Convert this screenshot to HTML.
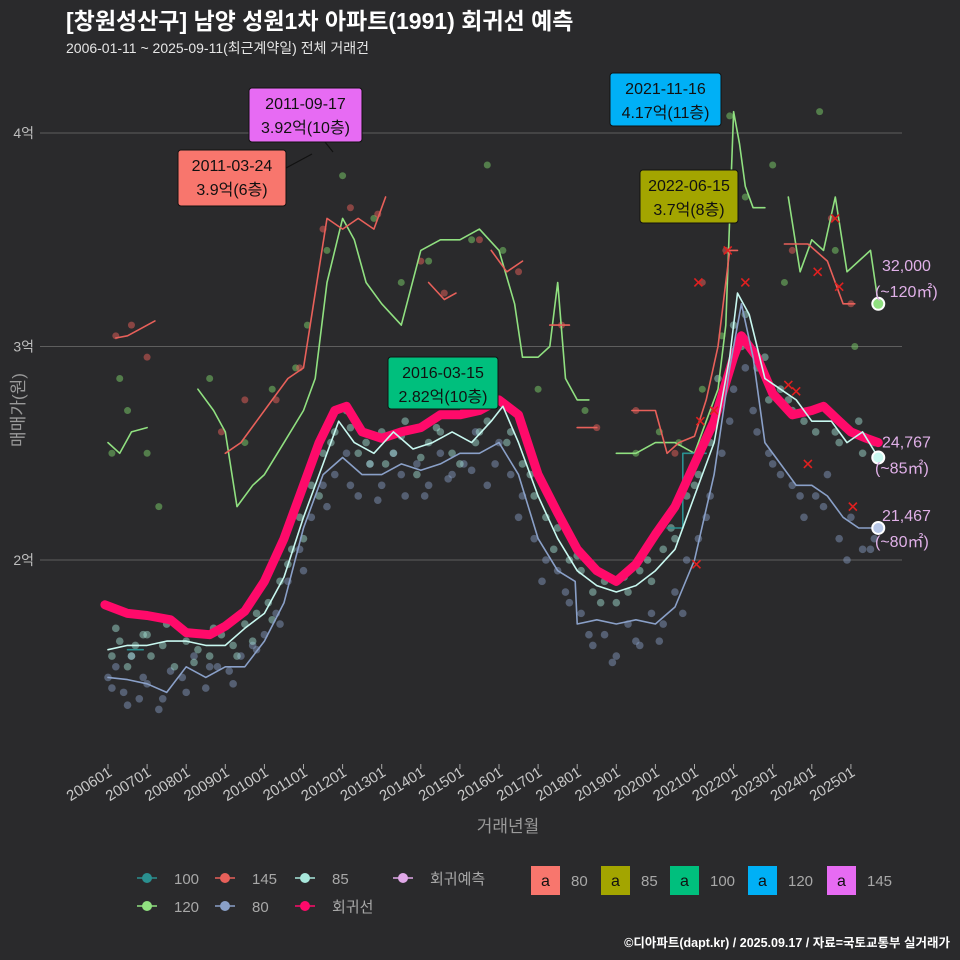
<!DOCTYPE html>
<html><head><meta charset="utf-8">
<style>
body{margin:0;background:#2a2a2c;}
svg{display:block;font-family:"Liberation Sans","Noto Sans CJK KR",sans-serif;}
</style></head>
<body>
<svg id="chart" width="960" height="960" viewBox="0 0 960 960">
<rect width="960" height="960" fill="#2a2a2c"/>
<text x="66" y="29" fill="#ffffff" font-size="23" font-weight="bold">[창원성산구] 남양 성원1차 아파트(1991) 회귀선 예측</text>
<text x="66" y="53" fill="#e6e6e6" font-size="14">2006-01-11 ~ 2025-09-11(최근계약일) 전체 거래건</text>
<g id="grid"></g>
<g id="marks"></g>
<g id="axes"></g>
<text x="508" y="832" fill="#9a9a9a" font-size="17" text-anchor="middle">거래년월</text>
<text transform="translate(24,410) rotate(-90)" fill="#9a9a9a" font-size="17" text-anchor="middle">매매가(원)</text>
<g id="legend"></g>
<text x="950" y="947" fill="#ffffff" font-size="12.5" font-weight="bold" text-anchor="end">©디아파트(dapt.kr) / 2025.09.17 / 자료=국토교통부 실거래가</text>
</svg>
<script>
const yTicks=[2,3,4];
const yTickLabels=["2억","3억","4억"];
const xTickYears=[2006,2007,2008,2009,2010,2011,2012,2013,2014,2015,2016,2017,2018,2019,2020,2021,2022,2023,2024,2025];
const xTickLabels=["200601","200701","200801","200901","201001","201101","201201","201301","201401","201501","201601","201701","201801","201901","202001","202101","202201","202301","202401","202501"];

const regYears=[2005.92,2006.5,2007.0,2007.6,2008.0,2008.6,2009.0,2009.5,2010.0,2010.5,2011.0,2011.4,2011.8,2012.1,2012.5,2013.0,2013.5,2014.0,2014.5,2015.0,2015.5,2016.0,2016.5,2017.0,2017.5,2018.0,2018.5,2019.0,2019.5,2020.0,2020.5,2021.0,2021.5,2022.0,2022.2,2022.6,2023.0,2023.5,2024.0,2024.3,2024.7,2025.0,2025.4,2025.7];
const regValues=[1.79,1.75,1.74,1.72,1.66,1.65,1.69,1.76,1.9,2.1,2.35,2.55,2.7,2.72,2.6,2.57,2.6,2.62,2.68,2.68,2.7,2.75,2.68,2.4,2.22,2.05,1.95,1.9,1.98,2.12,2.25,2.45,2.65,2.95,3.05,2.95,2.78,2.68,2.7,2.72,2.65,2.6,2.57,2.55];

const l85Years=[2006.0,2006.5,2007.0,2007.5,2008.0,2008.5,2009.0,2009.5,2010.0,2010.5,2011.0,2011.5,2011.9,2012.3,2012.8,2013.3,2013.8,2014.3,2014.8,2015.3,2015.8,2016.1,2016.5,2017.0,2017.5,2018.0,2018.5,2019.0,2019.5,2020.0,2020.5,2021.0,2021.5,2021.9,2022.1,2022.4,2022.8,2023.2,2023.6,2024.0,2024.5,2024.9,2025.3,2025.7];
const l85Values=[1.58,1.6,1.6,1.62,1.62,1.6,1.6,1.68,1.75,1.92,2.2,2.45,2.65,2.55,2.5,2.6,2.52,2.55,2.6,2.55,2.65,2.72,2.55,2.3,2.1,1.95,1.88,1.85,1.88,1.95,2.05,2.3,2.55,2.95,3.25,3.15,2.85,2.8,2.75,2.65,2.65,2.55,2.6,2.48];
const l80Years=[2006.0,2006.5,2007.0,2007.5,2008.0,2008.5,2009.0,2009.5,2010.0,2010.5,2011.0,2011.5,2012.0,2012.5,2013.0,2013.5,2014.0,2014.5,2015.0,2015.5,2016.0,2016.5,2017.0,2017.5,2017.95,2018.0,2018.5,2019.0,2019.5,2020.0,2020.5,2021.0,2021.5,2021.9,2022.2,2022.5,2022.8,2023.2,2023.6,2024.0,2024.4,2024.8,2025.2,2025.7];
const l80Values=[1.45,1.44,1.42,1.38,1.5,1.45,1.5,1.5,1.62,1.8,2.15,2.4,2.48,2.4,2.4,2.45,2.42,2.45,2.5,2.5,2.55,2.4,2.1,1.95,1.9,1.7,1.72,1.7,1.72,1.7,1.78,2.0,2.4,2.9,3.2,2.95,2.55,2.45,2.35,2.35,2.3,2.2,2.15,2.15];
const l120Years=[2006.0,2006.3,2006.6,2007.0,null,2008.3,2008.7,2009.0,2009.3,2009.7,2010.0,2010.5,2011.0,2011.3,2011.6,2012.0,2012.3,2012.6,2013.0,2013.5,2014.0,2014.5,2015.0,2015.5,2016.0,2016.4,2016.6,2017.0,2017.3,2017.5,2017.7,2018.0,2018.3,null,2019.0,2019.5,2020.0,2020.5,2021.0,2021.3,2021.6,2021.8,2022.0,2022.15,2022.3,2022.5,2022.8,null,2023.4,2023.7,2024.0,2024.3,2024.6,2024.9,2025.2,2025.5,2025.7];
const l120Values=[2.55,2.5,2.6,2.62,null,2.8,2.7,2.6,2.25,2.35,2.4,2.55,2.7,2.85,3.3,3.6,3.5,3.3,3.2,3.1,3.45,3.5,3.5,3.55,3.45,3.2,2.95,2.95,3.0,3.3,2.85,2.75,2.75,null,2.5,2.5,2.55,2.55,2.5,2.65,2.8,3.1,4.1,3.95,3.75,3.65,3.65,null,3.7,3.35,3.5,3.45,3.7,3.35,3.4,3.45,3.2];
const l145Years=[2006.2,2006.5,2006.8,2007.2,null,2009.0,2009.4,2009.8,2010.2,2010.6,2011.0,2011.3,2011.6,2012.0,2012.4,2012.8,2013.1,null,2014.2,2014.6,2014.9,null,2015.8,2016.2,2016.6,null,2017.3,2017.8,null,2018.0,2018.5,null,2019.4,2020.0,2020.3,2020.6,2021.0,2021.3,2021.6,2021.9,2022.1,null,2023.3,2023.9,2024.4,2024.8,2025.1];
const l145Values=[3.04,3.05,3.08,3.12,null,2.5,2.55,2.65,2.75,2.85,2.9,3.25,3.6,3.55,3.6,3.55,3.7,null,3.3,3.22,3.25,null,3.45,3.35,3.4,null,3.1,3.1,null,2.62,2.62,null,2.7,2.7,2.5,2.55,2.58,2.75,3.0,3.45,3.45,null,3.48,3.48,3.4,3.2,3.2];
const l100Years=[2006.5,2006.9,null,2020.3,2020.7,2020.7,2021.3];
const l100Values=[1.58,1.58,null,2.15,2.15,2.5,2.5];

const p85Years=[2006.1,2006.3,2006.5,2006.7,2006.9,2007.1,2007.4,2007.7,2008.0,2008.3,2008.6,2008.9,2009.2,2009.5,2009.8,2010.1,2010.4,2010.7,2010.9,2011.2,2011.5,2011.8,2012.1,2012.4,2012.7,2013.0,2013.3,2013.6,2013.9,2014.2,2014.5,2014.8,2015.1,2015.4,2015.7,2016.0,2016.3,2016.6,2016.9,2017.2,2017.5,2017.8,2018.1,2018.4,2018.7,2019.0,2019.3,2019.6,2019.9,2020.2,2020.5,2020.8,2021.1,2021.4,2021.7,2022.0,2022.3,2022.6,2022.9,2023.2,2023.5,2023.8,2024.1,2024.4,2024.7,2025.0,2025.3,2025.6,
 2006.2,2006.6,2007.0,2007.5,2008.2,2008.7,2009.3,2009.7,2010.2,2010.6,2011.0,2011.4,2011.7,2012.2,2012.6,2013.1,2013.5,2014.0,2014.4,2015.0,2015.5,2016.2,2016.8,2017.4,2018.0,2018.6,2019.2,2019.8,2020.4,2021.0,2021.6,2022.2,2022.8,2023.4,2024.0,2024.6,2025.2];
const p85Values=[1.55,1.62,1.5,1.6,1.65,1.55,1.6,1.5,1.62,1.58,1.55,1.65,1.6,1.7,1.75,1.8,1.9,2.05,2.2,2.35,2.5,2.6,2.7,2.5,2.45,2.6,2.5,2.65,2.4,2.55,2.6,2.5,2.7,2.55,2.65,2.75,2.6,2.45,2.3,2.2,2.15,2.0,1.95,1.85,1.9,1.8,1.85,1.95,1.9,2.05,2.1,2.3,2.4,2.55,2.75,3.1,3.15,2.9,2.75,2.8,2.7,2.65,2.6,2.7,2.55,2.6,2.5,2.55,
 1.68,1.55,1.65,1.7,1.52,1.68,1.55,1.62,1.72,1.98,2.1,2.3,2.55,2.62,2.55,2.45,2.58,2.48,2.62,2.45,2.6,2.55,2.4,2.05,2.02,1.8,1.92,2.0,2.15,2.35,2.85,3.0,2.95,2.75,2.7,2.6,2.65];
const p80Years=[2006.0,2006.2,2006.4,2006.6,2006.8,2007.0,2007.3,2007.6,2007.9,2008.2,2008.5,2008.8,2009.1,2009.4,2009.7,2010.0,2010.3,2010.6,2010.9,2011.2,2011.5,2011.8,2012.1,2012.4,2012.7,2013.0,2013.3,2013.6,2013.9,2014.2,2014.5,2014.8,2015.1,2015.4,2015.7,2016.0,2016.3,2016.6,2016.9,2017.2,2017.5,2017.8,2018.1,2018.4,2018.7,2019.0,2019.3,2019.6,2019.9,2020.2,2020.5,2020.8,2021.1,2021.4,2021.7,2022.0,2022.3,2022.6,2022.9,2023.2,2023.5,2023.8,2024.1,2024.4,2024.7,2025.0,2025.3,2025.6,
 2006.1,2006.5,2006.9,2007.4,2008.0,2008.6,2009.2,2009.8,2010.4,2011.0,2011.6,2012.2,2012.9,2013.5,2014.1,2014.7,2015.3,2015.9,2016.5,2017.1,2017.7,2018.3,2018.9,2019.5,2020.1,2020.7,2021.3,2021.9,2022.5,2023.0,2023.7,2024.3,2024.9,2025.5];
const p80Values=[1.45,1.5,1.38,1.55,1.35,1.42,1.3,1.48,1.45,1.55,1.4,1.5,1.48,1.55,1.6,1.65,1.75,1.9,2.05,2.2,2.35,2.4,2.5,2.3,2.45,2.35,2.5,2.3,2.45,2.35,2.5,2.4,2.45,2.6,2.35,2.55,2.4,2.3,2.1,2.0,1.95,1.8,1.75,1.6,1.65,1.55,1.7,1.6,1.75,1.7,1.85,2.0,2.1,2.3,2.5,2.8,2.9,2.6,2.5,2.4,2.35,2.2,2.3,2.4,2.1,2.2,2.05,2.1,
 1.4,1.32,1.45,1.35,1.38,1.5,1.42,1.58,1.7,1.95,2.25,2.35,2.28,2.4,2.3,2.38,2.42,2.45,2.2,1.9,1.85,1.65,1.52,1.62,1.62,1.75,2.2,2.65,2.7,2.45,2.3,2.25,2.0,2.05];
const p120Years=[2006.1,2006.3,2006.5,2007.0,2007.3,2008.6,2009.5,2010.2,2010.8,2011.1,2011.6,2012.0,2012.8,2013.5,2014.2,2015.3,2015.7,2016.1,2017.0,2018.2,2019.5,2020.1,2020.6,2021.2,2021.7,2021.9,2022.3,2023.0,2023.3,2024.2,2024.6,2025.1];
const p120Values=[2.5,2.85,2.7,2.5,2.25,2.85,2.55,2.8,2.9,3.1,3.45,3.8,3.6,3.3,3.4,3.5,3.85,3.45,2.8,2.7,2.5,2.6,2.55,2.8,3.05,4.08,3.7,3.85,3.3,4.1,3.45,3.0];
const p145Years=[2006.2,2006.6,2007.0,2008.9,2009.5,2010.3,2010.9,2011.5,2012.2,2012.9,2014.0,2014.6,2015.5,2016.5,2017.6,2018.5,2019.5,2020.5,2021.2,2021.5,2021.8,2023.5,2024.5,2025.0];
const p145Values=[3.05,3.1,2.95,2.6,2.75,2.75,2.9,3.55,3.65,3.62,3.4,3.25,3.5,3.35,3.1,2.62,2.7,2.5,3.3,2.7,3.45,3.45,3.6,3.2];
const xYears=[2021.1,2021.15,2021.5,2021.85,2022.3,2023.4,2023.6,2023.9,2024.15,2024.6,2024.7,2025.05,2021.05];
const xValues=[3.3,2.65,2.7,3.45,3.3,2.82,2.79,2.45,3.35,3.6,3.28,2.25,1.98];

const X=yr=>108+(yr-2006)*39.1;
const Y=v=>560-(v-2)*213.5;
const NS="http://www.w3.org/2000/svg";
function mk(tag,attrs,parent){const e=document.createElementNS(NS,tag);for(const k in attrs)e.setAttribute(k,attrs[k]);parent.appendChild(e);return e;}
const grid=document.getElementById('grid'),marks=document.getElementById('marks'),axes=document.getElementById('axes'),legend=document.getElementById('legend');

yTicks.forEach((v,i)=>{
  const l=mk('line',{x1:40,x2:902,y1:Y(v),y2:Y(v),stroke:'#5e5e5e','stroke-width':1},grid);
  
  
  const t=mk('text',{x:34,y:Y(v)+5,fill:'#bdbdbd','font-size':14,'text-anchor':'end'},axes);
  t.textContent=yTickLabels[i];
  
  
});
xTickYears.forEach((yr,i)=>{
  const x=X(yr);
  const tk=mk('line',{x1:x,x2:x,y1:764,y2:769,stroke:'#aaa'},axes);
  
  
  const t=mk('text',{transform:`translate(${x+5},775) rotate(-32)`,fill:'#c8c8c8','font-size':15,'text-anchor':'end'},axes);
  t.textContent=xTickLabels[i];
  
  
});

function pts(years,vals,color,op,r,name){
  years.forEach((yr,i)=>{
    const c=mk('circle',{cx:X(yr),cy:Y(vals[i]),r:r,fill:color,opacity:op},marks);
    
    
  });
}
function line(years,vals,color,w,name,op){
  let segs=[],cur=[];
  years.forEach((yr,i)=>{if(yr===null){if(cur.length)segs.push(cur);cur=[];}else cur.push(X(yr).toFixed(1)+','+Y(vals[i]).toFixed(1));});
  if(cur.length)segs.push(cur);
  segs.forEach(s=>{
    const p=mk('polyline',{points:s.join(' '),fill:'none',stroke:color,'stroke-width':w,'stroke-linejoin':'round','stroke-linecap':'round',opacity:op||1},marks);
    
    
  });
}
pts(p120Years,p120Values,'#7ccf6a',0.5,3.5,'point-120');
pts(p145Years,p145Values,'#e8605a',0.5,3.5,'point-145');
pts(p80Years,p80Values,'#8aa0c8',0.45,3.8,'point-80');
pts(p85Years,p85Values,'#a8e8dc',0.45,3.8,'point-85');
line(l120Years,l120Values,'#90e080',1.6,'line-120');
line(l145Years,l145Values,'#e8605a',1.6,'line-145');
line(l100Years,l100Values,'#2a9090',1.6,'line-100');
line(regYears,regValues,'#ff0a6a',9,'regression-line');
line(l80Years,l80Values,'#8aa0c8',1.6,'line-80');
line(l85Years,l85Values,'#c8f8f0',1.6,'line-85');
xYears.forEach((yr,i)=>{
  const x=X(yr),y=Y(xValues[i]);
  const p=mk('path',{d:`M${x-4},${y-4}L${x+4},${y+4}M${x-4},${y+4}L${x+4},${y-4}`,stroke:'#e02020','stroke-width':1.6},marks);
  
  
});

const endYears=[2025.7,2025.7,2025.7];
const endValues=[3.2,2.48,2.15];
const endColors=['#90e080','#c8f8f0','#b8c8e8'];
const endLabels=[['32,000','(~120㎡)'],['24,767','(~85㎡)'],['21,467','(~80㎡)']];
endYears.forEach((yr,i)=>{
  const c=mk('circle',{cx:X(yr),cy:Y(endValues[i]),r:6,fill:endColors[i],stroke:'#fff','stroke-width':2},marks);
  
  
  const dy=[-33,-10,-7][i];
  endLabels[i].forEach((s,j)=>{
    const t=mk('text',{x:j?875:882,y:Y(endValues[i])+dy+j*26,fill:'#e0b0e8','font-size':16},marks);
    t.textContent=s;
    
    
  });
});

const annots=[
 {x:178,y:150,w:108,h:56,c:'#f8766d',a:'2011-03-24',b:'3.9억(6층)',px:312,py:154,lx:286,ly:168},
 {x:249,y:88,w:113,h:54,c:'#e76bf3',a:'2011-09-17',b:'3.92억(10층)',px:333,py:152,lx:325,ly:142},
 {x:388,y:357,w:110,h:52,c:'#00bf7d',a:'2016-03-15',b:'2.82억(10층)'},
 {x:610,y:73,w:111,h:53,c:'#00b0f6',a:'2021-11-16',b:'4.17억(11층)'},
 {x:640,y:170,w:98,h:53,c:'#a3a500',a:'2022-06-15',b:'3.7억(8층)'}
];
annots.forEach(o=>{
  if(o.px){const l=mk('line',{x1:o.lx,y1:o.ly,x2:o.px,y2:o.py,stroke:'#111','stroke-width':1.2},marks);
    
    }
  const r=mk('rect',{x:o.x,y:o.y,width:o.w,height:o.h,rx:3,fill:o.c,stroke:'#111','stroke-width':1},marks);
  
  
  const t1=mk('text',{x:o.x+o.w/2,y:o.y+21,'font-size':16,'text-anchor':'middle',fill:'#111'},marks);t1.textContent=o.a;
  
  
  const t2=mk('text',{x:o.x+o.w/2,y:o.y+45,'font-size':16,'text-anchor':'middle',fill:'#111'},marks);t2.textContent=o.b;
  
  
});

const legLines=[['100','#2a9090',137,878],['145','#e8605a',215,878],['85','#a8e8dc',295,878],['회귀예측','#e0a8e8',393,878],['120','#90e080',137,906],['80','#8aa0c8',215,906],['회귀선','#ff0a6a',295,906]];
legLines.forEach(d=>{
  const g=mk('g',{},legend);
  
  
  mk('line',{x1:d[2],x2:d[2]+20,y1:d[3],y2:d[3],stroke:d[1],'stroke-width':1.5},g);
  mk('circle',{cx:d[2]+10,cy:d[3],r:5,fill:d[1]},g);
  const t=mk('text',{x:d[2]+37,y:d[3]+6,fill:'#a8a8a8','font-size':15},g);t.textContent=d[0];
});
const legBoxes=[['80','#f8766d',531],['85','#a3a500',601],['100','#00bf7d',670],['120','#00b0f6',748],['145','#e76bf3',827]];
legBoxes.forEach(d=>{
  const g=mk('g',{},legend);
  
  
  mk('rect',{x:d[2],y:866,width:29,height:29,fill:d[1]},g);
  const a=mk('text',{x:d[2]+14.5,y:886,fill:'#111','font-size':16,'text-anchor':'middle'},g);a.textContent='a';
  const t=mk('text',{x:d[2]+40,y:886,fill:'#a8a8a8','font-size':15},g);t.textContent=d[0];
});
</script>
</body></html>
